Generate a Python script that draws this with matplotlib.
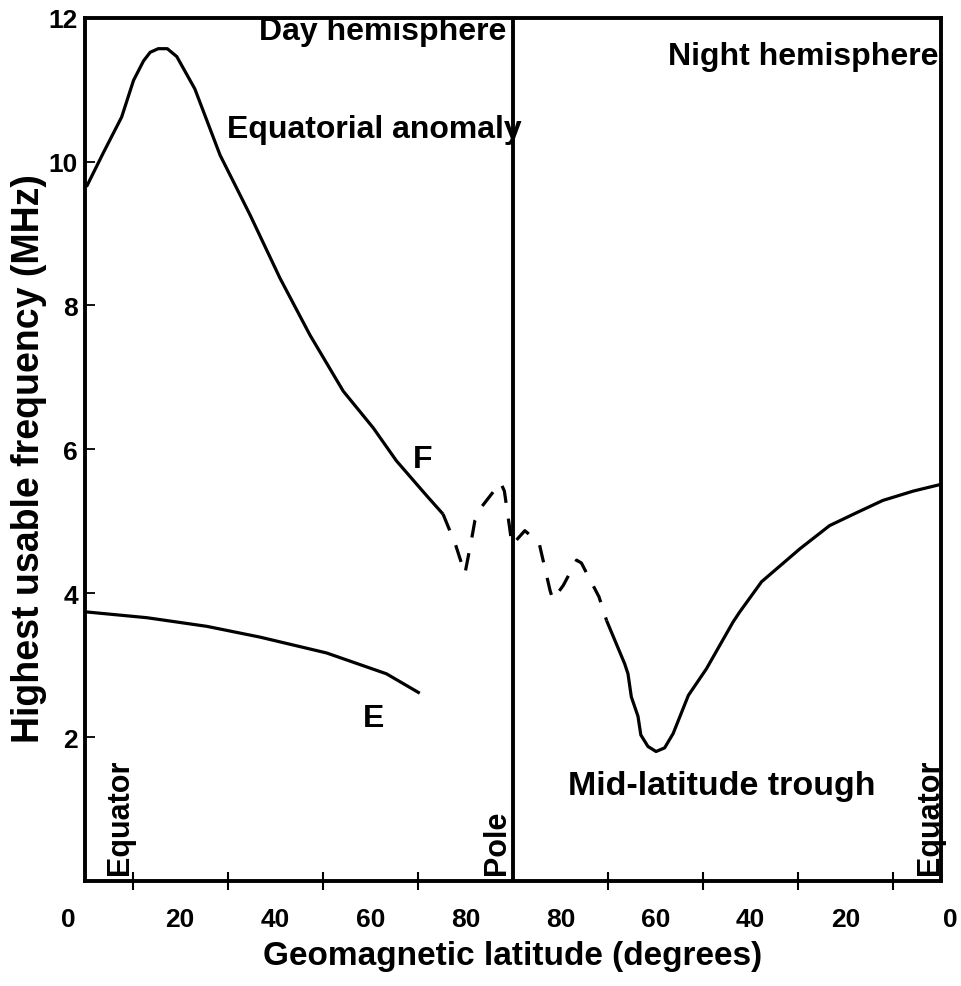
import matplotlib
matplotlib.use("Agg")
import matplotlib.pyplot as plt
from matplotlib.transforms import ScaledTranslation

plt.rcParams['font.family'] = ['Liberation Sans', 'DejaVu Sans']
plt.rcParams['font.weight'] = 'bold'

# Day-side F layer (solid), x = latitude position 0..90 (equator -> pole)
f_day_x = [0.3, 3.9, 7.7, 10.2, 12.3, 13.7, 15.4, 17.3, 19.3, 23.1, 28.4, 31.9, 34.7,
           41.0, 47.3, 54.3, 60.6, 65.5, 71.8, 75.3]
f_day_y = [9.65, 10.13, 10.62, 11.13, 11.40, 11.52, 11.57, 11.57, 11.46, 11.01, 10.09,
           9.63, 9.26, 8.38, 7.59, 6.81, 6.30, 5.84, 5.36, 5.10]

# Polar region F layer (dashed)
f_polar_x = [75.3, 77.9, 79.9, 81.3, 82.0, 83.4, 87.4, 88.2, 89.2, 89.8, 92.5, 95.5,
             97.8, 98.4, 100.6, 103.4, 104.4, 108.1, 109.7]
f_polar_y = [5.10, 4.68, 4.27, 4.75, 5.01, 5.20, 5.54, 5.42, 4.96, 4.67, 4.87, 4.70,
             4.04, 3.91, 4.11, 4.46, 4.42, 3.95, 3.62]

# Night-side F layer (solid), 90..180 = pole -> equator
f_night_x = [109.7, 113.5, 114.2, 114.9, 116.3, 116.9, 118.4, 120.1, 121.9, 123.7,
             126.9, 130.7, 136.3, 137.7, 142.3, 150.4, 156.6, 162.3, 167.8, 174.2, 179.8]
f_night_y = [3.62, 3.02, 2.88, 2.56, 2.29, 2.03, 1.87, 1.80, 1.85, 2.05,
             2.58, 2.95, 3.60, 3.74, 4.16, 4.62, 4.94, 5.12, 5.29, 5.42, 5.51]

# E layer (day side)
e_x = [0.3, 13.0, 19.3, 25.6, 36.8, 50.8, 63.4, 70.4]
e_y = [3.74, 3.66, 3.60, 3.54, 3.39, 3.17, 2.88, 2.61]

xtick_pos = [0, 20, 40, 60, 80, 100, 120, 140, 160, 180]
xtick_labels = ['0', '20', '40', '60', '80', '80', '60', '40', '20', '0']
xminor_pos = [10, 20, 30, 40, 50, 60, 70, 80, 100, 110, 120, 130, 140, 150, 160, 170]
ytick_pos = [2, 4, 6, 8, 10, 12]

fig = plt.figure(figsize=(9.61, 9.87), dpi=100)
ax = fig.add_axes([0.0885, 0.1064, 0.8905, 0.8746])

lw = 2.3
ax.plot(f_day_x, f_day_y, color='black', lw=lw, solid_capstyle='butt')
ax.plot(f_polar_x, f_polar_y, color='black', lw=lw, dashes=(5.5, 5.0), dash_capstyle='butt')
ax.plot(f_night_x, f_night_y, color='black', lw=lw, solid_capstyle='butt')
ax.plot(e_x, e_y, color='black', lw=lw, solid_capstyle='butt')
ax.axvline(90, color='black', lw=2.8)

ax.set_xlim(0, 180)
ax.set_ylim(0.0, 12)

for s in ax.spines.values():
    s.set_linewidth(2.8)

ax.set_xticks(xtick_pos)
ax.set_xticklabels(xtick_labels, fontsize=19, fontweight='bold')
ax.tick_params(axis='x', which='major', length=0, pad=19)
ax.set_xticks(xminor_pos, minor=True)
ax.tick_params(axis='x', which='minor', direction='inout', length=13, width=1.5)

ax.set_yticks(ytick_pos)
ax.set_yticklabels([str(v) for v in ytick_pos], fontsize=19, fontweight='bold')
ax.tick_params(axis='y', which='major', direction='in', length=7, width=1.3, pad=5)

labs = ax.get_xticklabels()
labs[0].set_transform(labs[0].get_transform() + ScaledTranslation(-0.17, 0, fig.dpi_scale_trans))
labs[-1].set_transform(labs[-1].get_transform() + ScaledTranslation(0.09, 0, fig.dpi_scale_trans))

ax.set_xlabel('Geomagnetic latitude (degrees)', fontsize=24, fontweight='bold')
ax.xaxis.set_label_coords(0.5, -0.068)
ax.set_ylabel('Highest usable frequency (MHz)', fontsize=27, fontweight='bold')
ax.yaxis.set_label_coords(-0.045, 0.49)

tk = dict(fontsize=23, fontweight='bold', color='black')
ax.text(36.6, 11.81, 'Day hemisphere', ha='left', va='center', **tk)
ax.text(122.6, 11.47, 'Night hemisphere', ha='left', va='center', **tk)
ax.text(29.8, 10.45, 'Equatorial anomaly', ha='left', va='center', **tk)
ax.text(71.1, 5.86, 'F', ha='center', va='center', **tk)
ax.text(60.6, 2.26, 'E', ha='center', va='center', **tk)
ax.text(101.6, 1.33, 'Mid-latitude trough', ha='left', va='center', fontsize=24.5,
        fontweight='bold', color='black')
rt = dict(fontsize=22, fontweight='bold', color='black', rotation=90, ha='center', va='bottom')
ax.text(7.4, 0.1, 'Equator', **rt)
ax.text(86.6, 0.1, 'Pole', **rt)
ax.text(177.7, 0.1, 'Equator', **rt)

fig.savefig('out.png', dpi=100)
